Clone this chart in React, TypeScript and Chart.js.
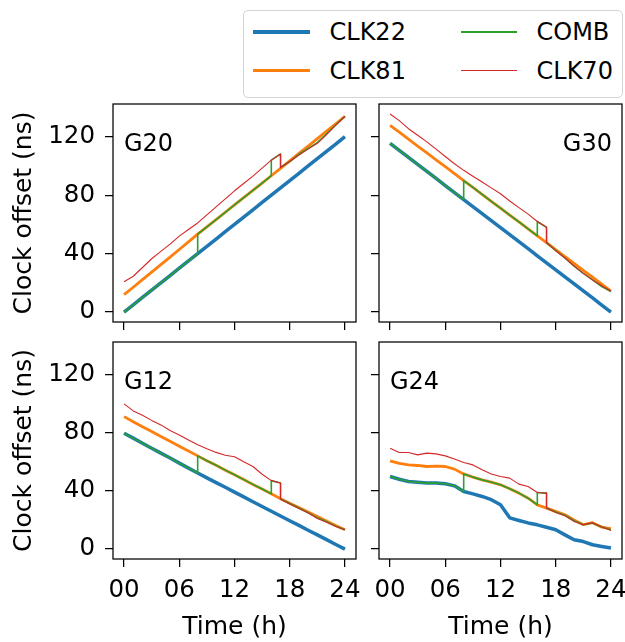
import React, { useEffect, useRef } from "react";
import { Chart, registerables } from "chart.js";

Chart.register(...registerables);

// ---------- data ----------
const HOURS = [0, 1, 2, 3, 4, 5, 6, 7, 8, 9, 10, 11, 12, 13, 14, 15, 16, 17, 18, 19, 20, 21, 22, 23, 24];
// CLK70 has a reset at 17 h
const RED_T = [0, 1, 2, 3, 4, 5, 6, 7, 8, 9, 10, 11, 12, 13, 14, 15, 16, 17, 17, 18, 19, 20, 21, 22, 23, 24];
// COMB switches clocks at 8 h, 16 h and 17 h
const COMB_T = [0, 1, 2, 3, 4, 5, 6, 7, 8, 8, 9, 10, 11, 12, 13, 14, 15, 16, 16, 17, 17, 18, 19, 20, 21, 22, 23, 24];

const G20_CLK22 = [0, 5, 10, 15, 20, 25, 30, 35, 40, 45, 50, 55, 60, 65, 70, 75, 80, 85, 90, 95, 100, 105, 110, 115, 120];
const G20_CLK81 = [12, 17, 22.2, 27.3, 32.5, 37.6, 42.8, 48, 53.3, 58.3, 63.3, 68.3, 73.3, 78.3, 83.3, 88.3, 93.3, 98.4, 103.5, 108.6, 113.6, 118.7, 123.8, 128.9, 134];
const G20_CLK70 = [20.8, 24.5, 30.5, 36.5, 41.5, 46.5, 52, 56.5, 61, 66.5, 72, 77.5, 83, 88, 93, 98.5, 104, 108.2, 99, 103, 107.5, 111.5, 115.5, 121.5, 128, 134];
const G20_COMB = [0, 5, 10, 15, 20, 25, 30, 35, 40, 53.3, 58.3, 63.3, 68.3, 73.3, 78.3, 83.3, 88.3, 93.3, 104, 108.2, 99, 103, 108, 112, 116, 122, 128, 134];

const G30_CLK22 = [115.5, 110.7, 105.9, 101.1, 96.3, 91.5, 86.6, 81.8, 77, 72.2, 67.4, 62.6, 57.8, 53, 48.2, 43.4, 38.5, 33.7, 28.9, 24.1, 19.3, 14.5, 9.7, 4.8, 0];
const G30_CLK81 = [127.8, 123.1, 118.4, 113.6, 108.9, 104.2, 99.5, 94.7, 90, 85.3, 80.6, 75.8, 71.1, 66.4, 61.7, 56.9, 52.2, 47.5, 42.8, 38, 33.3, 28.6, 23.9, 19.1, 14.4];
const G30_CLK70 = [135.6, 131, 125.5, 121, 116.5, 111.5, 106.5, 101.5, 97, 93, 89, 85, 81, 76, 71.5, 67, 62, 58, 47.5, 42, 37, 31.5, 26.5, 22, 18, 14.4];
const G30_COMB = [115.5, 110.7, 105.9, 101.1, 96.3, 91.5, 86.6, 81.8, 77, 90, 85.3, 80.6, 75.8, 71.1, 66.4, 61.7, 56.9, 52.2, 62, 58, 47.5, 42.3, 37, 31.5, 26.5, 22, 17.5, 14];

const G12_CLK22 = [79.7, 76.3, 72.8, 69.4, 66, 62.6, 59.1, 55.7, 52.3, 49, 45.7, 42.5, 39.2, 35.9, 32.6, 29.3, 26, 22.8, 19.5, 16.3, 13, 9.8, 6.5, 3.2, 0];
const G12_CLK81 = [91.1, 87.6, 84.1, 80.8, 77.4, 74.1, 70.7, 67.4, 64.1, 60.8, 57.6, 54.3, 51.1, 47.8, 44.5, 41.3, 38, 34.6, 31.6, 28.6, 25.5, 22.4, 19.4, 16.3, 13.3];
const G12_CLK70 = [99.9, 95, 92, 88.5, 85.4, 81.5, 78.5, 75, 71.7, 69, 66.5, 64.5, 63.5, 60, 56.8, 51.5, 47.1, 45.4, 34.4, 31, 28, 25, 21, 18.5, 15.5, 13.3];
const G12_COMB = [79.7, 76.3, 72.8, 69.4, 66, 62.6, 59.1, 55.7, 52.3, 64.1, 60.8, 57.6, 54.3, 51.1, 47.8, 44.5, 41.3, 38, 47.1, 45.4, 34.4, 31.3, 28.3, 25, 21.5, 18.8, 15.8, 13.3];

const G24_CLK22 = [49.9, 48, 46.5, 46, 45.4, 45.5, 44.9, 43.5, 39.6, 38, 36.2, 34, 30.5, 21.5, 19.7, 18, 16.7, 15, 13.3, 9.8, 6.4, 5.2, 3, 1.8, 0.7];
const G24_CLK81 = [60.7, 59, 57.9, 57.5, 56.8, 57, 56.8, 55, 51.7, 49.5, 47.6, 46, 44.2, 41.5, 38.5, 35, 30.4, 28.2, 25.9, 23.6, 20.1, 16.8, 18.2, 15.1, 14];
const G24_CLK70 = [69.4, 66.4, 66.4, 64.8, 66, 65.5, 64.1, 61.9, 59.5, 57.9, 54.5, 51.7, 49.9, 48.8, 44.7, 43, 38.9, 38.5, 28.2, 25.2, 23, 19, 16.7, 18.2, 15.3, 12.8];
const G24_COMB = [49.9, 48, 46.5, 46, 45.4, 45.5, 44.9, 43.5, 39.6, 51.7, 49.5, 47.6, 46, 44.2, 41.5, 38.5, 35, 30.4, 38.9, 38.5, 28.2, 25.5, 23.3, 19.5, 16.7, 18, 15.2, 13.3];

const X_TICKS = [0, 6, 12, 18, 24];
const Y_TICKS = [0, 40, 80, 120];
const SERIES = ["CLK22", "CLK81", "COMB", "CLK70"];
const COLORS = ["#1f77b4", "#ff7f0e", "#2ca02c", "#d62728"];
const WIDTHS = [3.5, 2.8, 1.6, 1.1];

const FONT = "'DejaVu Sans', 'Noto Sans', sans-serif";

type PanelSpec = {
  name: string;
  clk22: number[];
  clk81: number[];
  comb: number[];
  clk70: number[];
  showY: boolean;
  showX: boolean;
  labelRight: boolean;
  left: number;
  top: number;
  width: number;
  height: number;
  yAxisW: number;
  xAxisH: number;
  padRight: number;
};

const PANELS: PanelSpec[] = [
  { name: "G20", clk22: G20_CLK22, clk81: G20_CLK81, comb: G20_COMB, clk70: G20_CLK70, showY: true, showX: false, labelRight: false, left: 0, top: 100, width: 368, height: 232, yAxisW: 113, xAxisH: 10, padRight: 12 },
  { name: "G30", clk22: G30_CLK22, clk81: G30_CLK81, comb: G30_COMB, clk70: G30_CLK70, showY: false, showX: false, labelRight: true, left: 365, top: 100, width: 275, height: 232, yAxisW: 14, xAxisH: 10, padRight: 18 },
  { name: "G12", clk22: G12_CLK22, clk81: G12_CLK81, comb: G12_COMB, clk70: G12_CLK70, showY: true, showX: true, labelRight: false, left: 0, top: 338, width: 368, height: 304, yAxisW: 113, xAxisH: 83, padRight: 12 },
  { name: "G24", clk22: G24_CLK22, clk81: G24_CLK81, comb: G24_COMB, clk70: G24_CLK70, showY: false, showX: true, labelRight: false, left: 365, top: 338, width: 275, height: 304, yAxisW: 14, xAxisH: 83, padRight: 18 },
];

function pts(ts: number[], vs: number[]) {
  return ts.map((t, i) => ({ x: t, y: vs[i] }));
}

const framePlugin = {
  id: "frame",
  afterDatasetsDraw(chart: any, _args: any, opts: any) {
    const { ctx, chartArea } = chart;
    const { left, top, right, bottom } = chartArea;
    ctx.save();
    ctx.strokeStyle = "#000";
    ctx.lineWidth = 1.25;
    ctx.strokeRect(left, top, right - left, bottom - top);
    ctx.fillStyle = "#000";
    ctx.font = `24px ${FONT}`;
    ctx.textBaseline = "alphabetic";
    if (opts.right) {
      ctx.textAlign = "right";
      ctx.fillText(opts.label, right - 10, top + 47);
    } else {
      ctx.textAlign = "left";
      ctx.fillText(opts.label, left + 11, top + 47);
    }
    ctx.restore();
  },
};

function Panel({ spec }: { spec: PanelSpec }) {
  const ref = useRef<HTMLCanvasElement>(null);
  useEffect(() => {
    const seriesData = [
      pts(HOURS, spec.clk22),
      pts(HOURS, spec.clk81),
      pts(COMB_T, spec.comb),
      pts(RED_T, spec.clk70),
    ];
    const chart = new Chart(ref.current as HTMLCanvasElement, {
      type: "line",
      data: {
        datasets: SERIES.map((name, i) => ({
          label: name,
          data: seriesData[i],
          borderColor: COLORS[i],
          backgroundColor: COLORS[i],
          borderWidth: WIDTHS[i],
          pointRadius: 0,
          tension: 0,
          fill: false,
          order: 4 - i,
        })),
      },
      options: {
        animation: false,
        responsive: true,
        maintainAspectRatio: false,
        events: [],
        layout: { padding: { top: 4, right: spec.padRight, left: 0, bottom: 0 } },
        plugins: {
          legend: { display: false },
          tooltip: { enabled: false },
          frame: { label: spec.name, right: spec.labelRight },
        } as any,
        elements: { line: { borderJoinStyle: "round", borderCapStyle: "butt" } },
        scales: {
          x: {
            type: "linear",
            min: -1.2,
            max: 25.2,
            afterBuildTicks: (s: any) => {
              s.ticks = X_TICKS.map((v) => ({ value: v }));
            },
            afterFit: (s: any) => {
              s.height = spec.xAxisH;
              s.paddingLeft = 0;
              s.paddingRight = 0;
              s.paddingTop = 0;
              s.paddingBottom = 0;
            },
            grid: {
              display: true,
              drawOnChartArea: false,
              drawTicks: true,
              tickLength: 8,
              color: "#000",
              tickColor: "#000",
              lineWidth: 1.25,
              tickWidth: 1.25,
            },
            border: { display: false },
            ticks: {
              display: spec.showX,
              padding: 9,
              color: "#000",
              autoSkip: false,
              maxRotation: 0,
              font: { family: FONT, size: 24.5 },
              callback: (v: any) => String(v).padStart(2, "0"),
            },
            title: {
              display: spec.showX,
              text: "Time (h)",
              color: "#000",
              font: { family: FONT, size: 25 },
              padding: { top: 0, bottom: 0 },
            },
          },
          y: {
            type: "linear",
            min: -6.8,
            max: 142.4,
            afterBuildTicks: (s: any) => {
              s.ticks = Y_TICKS.map((v) => ({ value: v }));
            },
            afterFit: (s: any) => {
              s.width = spec.yAxisW;
              s.paddingLeft = 0;
              s.paddingRight = 0;
              s.paddingTop = 0;
              s.paddingBottom = 0;
            },
            grid: {
              display: true,
              drawOnChartArea: false,
              drawTicks: true,
              tickLength: 8,
              color: "#000",
              tickColor: "#000",
              lineWidth: 1.25,
              tickWidth: 1.25,
            },
            border: { display: false },
            ticks: {
              display: spec.showY,
              padding: 10,
              color: "#000",
              font: { family: FONT, size: 24.5 },
            },
            title: {
              display: spec.showY,
              text: "Clock offset (ns)",
              color: "#000",
              font: { family: FONT, size: 25 },
              padding: { top: 9, bottom: 0 },
            },
          },
        },
      },
      plugins: [framePlugin],
    } as any);
    return () => chart.destroy();
  }, [spec]);
  return (
    <div style={{ position: "absolute", left: spec.left, top: spec.top, width: spec.width, height: spec.height }}>
      <canvas ref={ref} />
    </div>
  );
}

function Legend() {
  const rows = [31.5, 70.5];
  const cols = [
    { line: 253, lineW: 57, text: 329.5 },
    { line: 461, lineW: 56, text: 536.5 },
  ];
  // matplotlib ncol=2 fills column-first
  const items = SERIES.map((name, i) => ({ name, i, col: Math.floor(i / 2), row: i % 2 }));
  return (
    <>
      <div
        style={{
          position: "absolute",
          left: 243,
          top: 10,
          width: 380,
          height: 88,
          boxSizing: "border-box",
          border: "1.5px solid #d4d4d4",
          borderRadius: 5,
          background: "#fff",
        }}
      />
      {items.map((it) => {
        const c = cols[it.col];
        const y = rows[it.row];
        return (
          <React.Fragment key={it.name}>
            <div
              style={{
                position: "absolute",
                left: c.line,
                top: Math.round(y - WIDTHS[it.i] / 2),
                width: c.lineW,
                height: Math.max(1, Math.round(WIDTHS[it.i])),
                background: COLORS[it.i],
              }}
            />
            <div
              style={{
                position: "absolute",
                left: c.text,
                top: y - 11.6,
                fontFamily: FONT,
                fontSize: 24,
                lineHeight: "24px",
                color: "#000",
                whiteSpace: "nowrap",
              }}
            >
              {it.name}
            </div>
          </React.Fragment>
        );
      })}
    </>
  );
}

export default function App() {
  return (
    <div
      style={{
        position: "absolute",
        left: 0,
        top: 0,
        width: 625,
        height: 642,
        overflow: "hidden",
        background: "#fff",
      }}
    >
      {PANELS.map((p) => (
        <Panel key={p.name} spec={p} />
      ))}
      <Legend />
    </div>
  );
}
